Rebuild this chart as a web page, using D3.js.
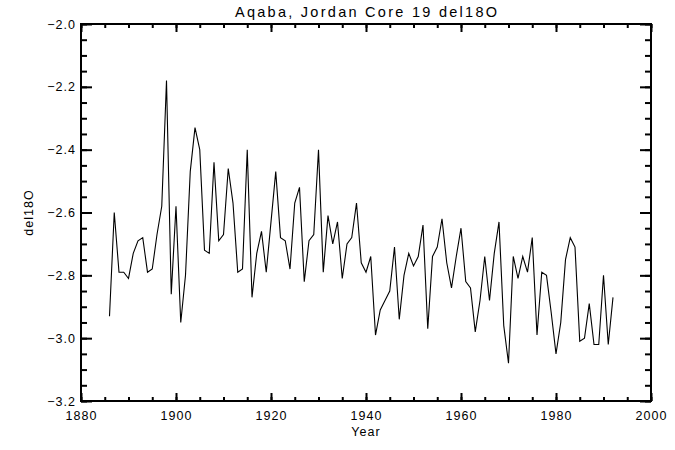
<!DOCTYPE html>
<html>
<head>
<meta charset="utf-8">
<script src="https://cdn.jsdelivr.net/npm/d3@7"></script>
<style>
  body { margin: 0; background: #fff; }
  text { font-family: "Liberation Sans", Arial, sans-serif; fill: #000; }
</style>
</head>
<body>
<div id="chart"></div>
<script>
// del18O record, one value per year from 1886 to 1992
var years = d3.range(1886, 1993);
var del18O = [
  -2.93, -2.60, -2.79, -2.79, -2.81, -2.73, -2.69, -2.68, -2.79, -2.78,
  -2.67, -2.58, -2.18, -2.86, -2.58, -2.95, -2.80, -2.47, -2.33, -2.40,
  -2.72, -2.73, -2.44, -2.69, -2.67, -2.46, -2.57, -2.79, -2.78, -2.40,
  -2.87, -2.73, -2.66, -2.79, -2.63, -2.47, -2.68, -2.69, -2.78, -2.57,
  -2.52, -2.82, -2.69, -2.67, -2.40, -2.79, -2.61, -2.70, -2.63, -2.81,
  -2.70, -2.68, -2.57, -2.76, -2.79, -2.74, -2.99, -2.91, -2.88, -2.85,
  -2.71, -2.94, -2.80, -2.73, -2.77, -2.74, -2.64, -2.97, -2.74, -2.71,
  -2.62, -2.76, -2.84, -2.74, -2.65, -2.82, -2.84, -2.98, -2.88, -2.74,
  -2.88, -2.73, -2.63, -2.96, -3.08, -2.74, -2.81, -2.74, -2.79, -2.68,
  -2.99, -2.79, -2.80, -2.92, -3.05, -2.95, -2.75, -2.68, -2.71, -3.01,
  -3.00, -2.89, -3.02, -3.02, -2.80, -3.02, -2.87
];
var xTicks = [1880, 1900, 1920, 1940, 1960, 1980, 2000];
var xMinor = d3.range(1880, 2001, 5);
var yTicks = [-3.2, -3.0, -2.8, -2.6, -2.4, -2.2, -2.0];
var yMinor = d3.range(-3.2, -1.99, 0.05);

var width = 675, height = 450;
var margin = { top: 24, right: 24, bottom: 49, left: 81 };
var w = width - margin.left - margin.right;
var h = height - margin.top - margin.bottom;

var svg = d3.select("#chart")
            .append("svg")
            .attr("width", width)
            .attr("height", height);

var g = svg.append("g")
           .attr("transform", "translate(" + margin.left + "," + margin.top + ")");

var x = d3.scaleLinear().domain([1880, 2000]).range([0, w]);
var y = d3.scaleLinear().domain([-3.2, -2.0]).range([h, 0]);

var fmt = function(d) { return d3.format(".1f")(d).replace("-", "\u2212"); };

function styleAxis(sel) {
  sel.select(".domain").remove();
  sel.selectAll(".tick line").attr("stroke", "#000").attr("stroke-width", 2);
  sel.selectAll(".tick text")
     .style("font-size", "12.5px")
     .style("letter-spacing", "1px")
     .attr("fill", "#000");
}

// bottom
g.append("g").attr("transform", "translate(0," + h + ")")
  .call(d3.axisBottom(x).tickValues(xMinor).tickSize(-4).tickFormat(""))
  .call(styleAxis);
g.append("g").attr("transform", "translate(0," + h + ")")
  .call(d3.axisBottom(x).tickValues(xTicks).tickSize(-8).tickPadding(10).tickFormat(d3.format("d")))
  .call(styleAxis);
// top
g.append("g")
  .call(d3.axisTop(x).tickValues(xMinor).tickSize(-4).tickFormat(""))
  .call(styleAxis);
g.append("g")
  .call(d3.axisTop(x).tickValues(xTicks).tickSize(-8).tickFormat(""))
  .call(styleAxis);
// left
g.append("g")
  .call(d3.axisLeft(y).tickValues(yMinor).tickSize(-6).tickFormat(""))
  .call(styleAxis);
g.append("g")
  .call(d3.axisLeft(y).tickValues(yTicks).tickSize(-11).tickPadding(5).tickFormat(fmt))
  .call(styleAxis);
// right
g.append("g").attr("transform", "translate(" + w + ",0)")
  .call(d3.axisRight(y).tickValues(yMinor).tickSize(-6).tickFormat(""))
  .call(styleAxis);
g.append("g").attr("transform", "translate(" + w + ",0)")
  .call(d3.axisRight(y).tickValues(yTicks).tickSize(-11).tickFormat(""))
  .call(styleAxis);

// frame
g.append("rect")
  .attr("width", w).attr("height", h)
  .attr("fill", "none").attr("stroke", "#000").attr("stroke-width", 2);

var line = d3.line()
  .x(function(d, i) { return x(years[i]); })
  .y(function(d) { return y(d); });

g.append("path")
  .datum(del18O)
  .attr("fill", "none")
  .attr("stroke", "#000")
  .attr("stroke-width", 1.1)
  .attr("d", line);

svg.append("text")
  .attr("x", margin.left + w / 2)
  .attr("y", 17)
  .attr("text-anchor", "middle")
  .attr("textLength", 262)
  .attr("lengthAdjust", "spacing")
  .style("font-size", "14.5px")
  .text("Aqaba, Jordan Core 19 del18O");

svg.append("text")
  .attr("x", margin.left + w / 2)
  .attr("y", 436)
  .attr("text-anchor", "middle")
  .style("font-size", "12.5px")
  .style("letter-spacing", "1px")
  .text("Year");

svg.append("text")
  .attr("transform", "translate(33," + (margin.top + h / 2) + ") rotate(-90)")
  .attr("text-anchor", "middle")
  .style("font-size", "12.5px")
  .style("letter-spacing", "1px")
  .text("del18O");
</script>
</body>
</html>
